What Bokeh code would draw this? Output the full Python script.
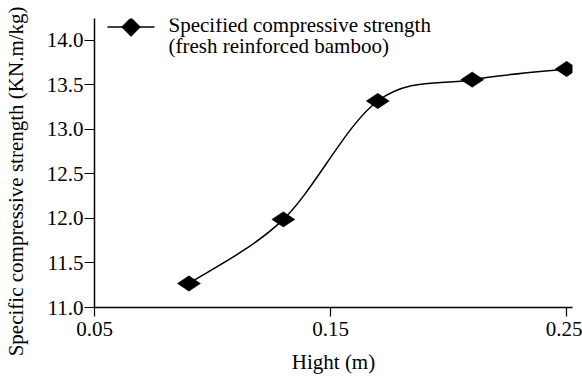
import numpy as np
from bokeh.plotting import figure
from bokeh.models import FixedTicker, Range1d, Label, PolyAnnotation, LinearAxis
from bokeh.embed import file_html
from bokeh.resources import INLINE

# ---- data ----
height_m = [0.09, 0.13, 0.17, 0.21, 0.25]
strength = [11.27, 11.99, 13.32, 13.56, 13.68]
x_ticks = [0.05, 0.15, 0.25]
x_tick_labels = ["0.05", "0.15", "0.25"]
y_ticks = [11.0, 11.5, 12.0, 12.5, 13.0, 13.5, 14.0]
y_tick_labels = ["11.0", "11.5", "12.0", "12.5", "13.0", "13.5", "14.0"]
legend_lines = ["Specified compressive strength", "(fresh reinforced bamboo)"]
x_title = "Hight (m)"
y_title = "Specific compressive strength (KN.m/kg)"

FONT = "Liberation Serif"
FS = "21px"

p = figure(width=582, height=377, output_backend="svg", toolbar_location=None,
           x_range=Range1d(0.05, 0.2525), y_range=Range1d(11.0, 14.247),
           min_border_left=93, min_border_right=10, min_border_top=18, min_border_bottom=70)
p.outline_line_color = None
p.xgrid.visible = False
p.ygrid.visible = False
p.background_fill_color = "white"
p.border_fill_color = "white"

# smooth curve (Catmull-Rom -> cubic Bezier) computed from the data
xs = np.array(height_m)
ys = np.array(strength)
n = len(xs)
x0, y0, x1, y1, cx0, cy0, cx1, cy1 = ([] for _ in range(8))
for i in range(n - 1):
    pm = i - 1 if i > 0 else i
    pp = i + 2 if i + 2 < n else i + 1
    x0.append(xs[i]); y0.append(ys[i])
    x1.append(xs[i + 1]); y1.append(ys[i + 1])
    cx0.append(xs[i] + (xs[i + 1] - xs[pm]) / 6)
    cy0.append(ys[i] + (ys[i + 1] - ys[pm]) / 6)
    cx1.append(xs[i + 1] - (xs[pp] - xs[i]) / 6)
    cy1.append(ys[i + 1] - (ys[pp] - ys[i]) / 6)
p.bezier(x0=x0, y0=y0, x1=x1, y1=y1, cx0=cx0, cy0=cy0, cx1=cx1, cy1=cy1,
         line_color="black", line_width=1.5)

p.scatter(height_m, strength, marker="diamond", size=23, angle=np.pi / 2,
          fill_color="black", line_color="black", line_width=0.5)

# legend (drawn with canvas-unit annotations)
p.add_layout(PolyAnnotation(xs=[107, 154], ys=[26.5, 26.5], xs_units="canvas", ys_units="canvas",
                            line_color="black", line_alpha=1, line_width=1.5, fill_alpha=0))
p.add_layout(PolyAnnotation(xs=[121, 130.5, 140, 130.5], ys=[26.5, 17, 26.5, 36],
                            xs_units="canvas", ys_units="canvas",
                            line_color="black", line_alpha=1, line_width=0.5,
                            fill_color="black", fill_alpha=1))
for txt, cy in zip(legend_lines, [24.5, 45.5]):
    p.add_layout(Label(x=168, y=cy, x_units="canvas", y_units="canvas", text=txt,
                       text_font=FONT, text_font_size=FS, text_color="black",
                       text_baseline="middle", text_align="left"))

# axes
for ax in (p.xaxis[0], p.yaxis[0]):
    ax.axis_line_color = "black"
    ax.axis_line_width = 1.5
    ax.major_tick_line_color = "black"
    ax.major_tick_line_width = 1.2
    ax.minor_tick_line_color = None
    ax.major_label_text_font = FONT
    ax.major_label_text_font_size = FS
    ax.major_label_text_color = "black"
    ax.axis_label_text_font = FONT
    ax.axis_label_text_font_size = FS
    ax.axis_label_text_font_style = "normal"
    ax.axis_label_text_color = "black"

p.xaxis.ticker = FixedTicker(ticks=x_ticks)
p.xaxis.major_label_overrides = dict(zip(x_ticks, x_tick_labels))
p.xaxis.major_tick_in = 0
p.xaxis.major_tick_out = 9
p.xaxis.major_label_standoff = 5
p.xaxis.axis_label = x_title
p.xaxis.axis_label_standoff = 11

p.yaxis.ticker = FixedTicker(ticks=y_ticks)
p.yaxis.major_label_overrides = dict(zip(y_ticks, y_tick_labels))
p.yaxis.major_tick_in = 0
p.yaxis.major_tick_out = 10
p.yaxis.major_label_standoff = 1

# y title: a bare outer axis carrying only the title; trailing no-break spaces
# shift the visible text down to sit where the reference has it
title_axis = LinearAxis(ticker=FixedTicker(ticks=[]),
                        axis_line_color=None, major_tick_line_color=None,
                        minor_tick_line_color=None, major_tick_in=0, major_tick_out=0,
                        major_label_standoff=0, major_label_text_font_size="0px",
                        axis_label=y_title + "\u00a0" * 7, axis_label_standoff=16,
                        axis_label_text_font=FONT, axis_label_text_font_size=FS,
                        axis_label_text_font_style="normal", axis_label_text_color="black")
p.add_layout(title_axis, "left")

open("out.html", "w").write(file_html(p, INLINE))
